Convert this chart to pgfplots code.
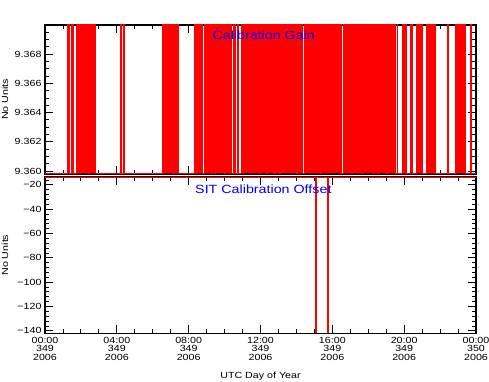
\documentclass[border=0pt]{standalone}
\usepackage{pgfplots}
\pgfplotsset{compat=1.18}
\usepackage{fontspec}
\setmainfont{Liberation Sans}[FakeStretch=1.2]
\pgfplotsset{
  panel/.style={
    scale only axis, width=431pt, xmin=0, xmax=24,
    axis line style={line width=1.1pt},
    tick style={black, line width=0.9pt},
    major tick length=8pt, minor tick length=4pt,
    xtick={0,4,...,24}, minor xtick={0,1,...,24},
    tick align=inside,
    ticklabel style={font=\fontsize{8.9}{8.8}\selectfont},
    ylabel style={font=\fontsize{8.9}{9}\selectfont, at={(axis description cs:-0.0928,0.5)}, anchor=center},
  }
}
\begin{document}
\begin{tikzpicture}[x=1pt,y=1pt]
\path[use as bounding box] (0,0) rectangle (489,382);
\begin{axis}[panel, at={(45pt,208pt)}, anchor=south west, height=149pt,
  ymin=9.3598, ymax=9.37,
  ytick={9.360,9.362,9.364,9.366,9.368},
  yticklabels={9.360,9.362,9.364,9.366,9.368},
  minor ytick={9.3600,9.3605,9.3610,9.3615,9.3620,9.3625,9.3630,9.3635,9.3640,9.3645,9.3650,9.3655,9.3660,9.3665,9.3670,9.3675,9.3680,9.3685,9.3690,9.3695},
  xticklabels={}, ylabel={No Units}]
\addplot[red, fill=red, line width=0.6pt, const plot] coordinates {
(0,9.35985)
(1.264,9.3701)(1.353,9.35985)
(1.487,9.3701)(1.598,9.35985)
(1.765,9.3701)(1.949,9.35985)
(1.988,9.3701)(2.394,9.35985)
(2.439,9.3701)(2.823,9.35985)
(4.204,9.3701)(4.271,9.35985)
(4.343,9.3701)(4.416,9.35985)
(6.532,9.3701)(7.128,9.35985)
(7.183,9.3701)(7.423,9.35985)
(8.297,9.3701)(8.430,9.35985)
(8.490,9.3701)(8.782,9.35985)
(8.871,9.3701)(9.270,9.35985)
(9.330,9.3701)(9.439,9.35985)
(9.494,9.3701)(9.990,9.35985)
(10.050,9.3701)(10.396,9.35985)
(10.485,9.3701)(10.597,9.35985)
(10.708,9.3701)(10.786,9.35985)
(10.931,9.3701)(11.940,9.35985)
(12.000,9.3701)(12.317,9.35985)
(12.373,9.3701)(12.779,9.35985)
(12.835,9.3701)(13.019,9.35985)
(13.075,9.3701)(13.988,9.35985)
(14.043,9.3701)(14.355,9.35985)
(14.411,9.3701)(15.341,9.35985)
(15.397,9.3701)(16.522,9.35985)
(16.611,9.3701)(17.070,9.35985)
(17.130,9.3701)(17.620,9.35985)
(17.680,9.3701)(18.265,9.35985)
(18.321,9.3701)(18.510,9.35985)
(18.570,9.3701)(19.006,9.35985)
(19.062,9.3701)(19.490,9.35985)
(19.600,9.3701)(19.640,9.35985)
(19.896,9.3701)(20.141,9.35985)
(20.325,9.3701)(20.475,9.35985)
(20.698,9.3701)(21.032,9.35985)
(21.255,9.3701)(21.717,9.35985)
(22.402,9.3701)(22.480,9.35985)
(22.831,9.3701)(23.388,9.35985)
(23.667,9.3701)(23.761,9.35985)
(24,9.35985)
};
\node[anchor=west, text=blue, font=\fontsize{11.9}{12}\selectfont] at (axis description cs:0.3805,0.933) {Calibration Gain};
\node[font=\fontsize{12.4}{13}\selectfont] at (axis description cs:0.5,1.114) {SIT behind Housekeeping Data for 2006−349};
\node[anchor=east, font=\fontsize{7.4}{8}\selectfont] at (axis description cs:0.9977,1.030) {Sun Jan 14 01:52:14 2007 ACE Science Center};
\end{axis}
\begin{axis}[panel, at={(45pt,48.7pt)}, anchor=south west, height=156.3pt,
  ymin=-142, ymax=-13.5,
  ytick={-140,-120,-100,-80,-60,-40,-20},
  yticklabels={−140,−120,−100,−80,−60,−40,−20},
  minor ytick={-140,-136,...,-16},
  xticklabels={{00:00\\349\\2006},{04:00\\349\\2006},{08:00\\349\\2006},{12:00\\349\\2006},{16:00\\349\\2006},{20:00\\349\\2006},{00:00\\350\\2006}},
  xticklabel style={align=center},
  xlabel={UTC Day of Year},
  xlabel style={font=\fontsize{8.9}{9}\selectfont, at={(axis description cs:0.5,-0.273)}, anchor=center},
  ylabel={No Units}]
\addplot[red, line width=1.2pt] coordinates {(0,-14)(24,-14)};
\addplot[red, line width=1.5pt, ycomb] coordinates {(15.09,-142)};
\addplot[red, line width=1.5pt, ycomb] coordinates {(15.76,-142)};
\node[anchor=west, text=blue, font=\fontsize{11.9}{12}\selectfont] at (axis description cs:0.3404,0.923) {SIT Calibration Offset};
\end{axis}
\end{tikzpicture}
\end{document}
